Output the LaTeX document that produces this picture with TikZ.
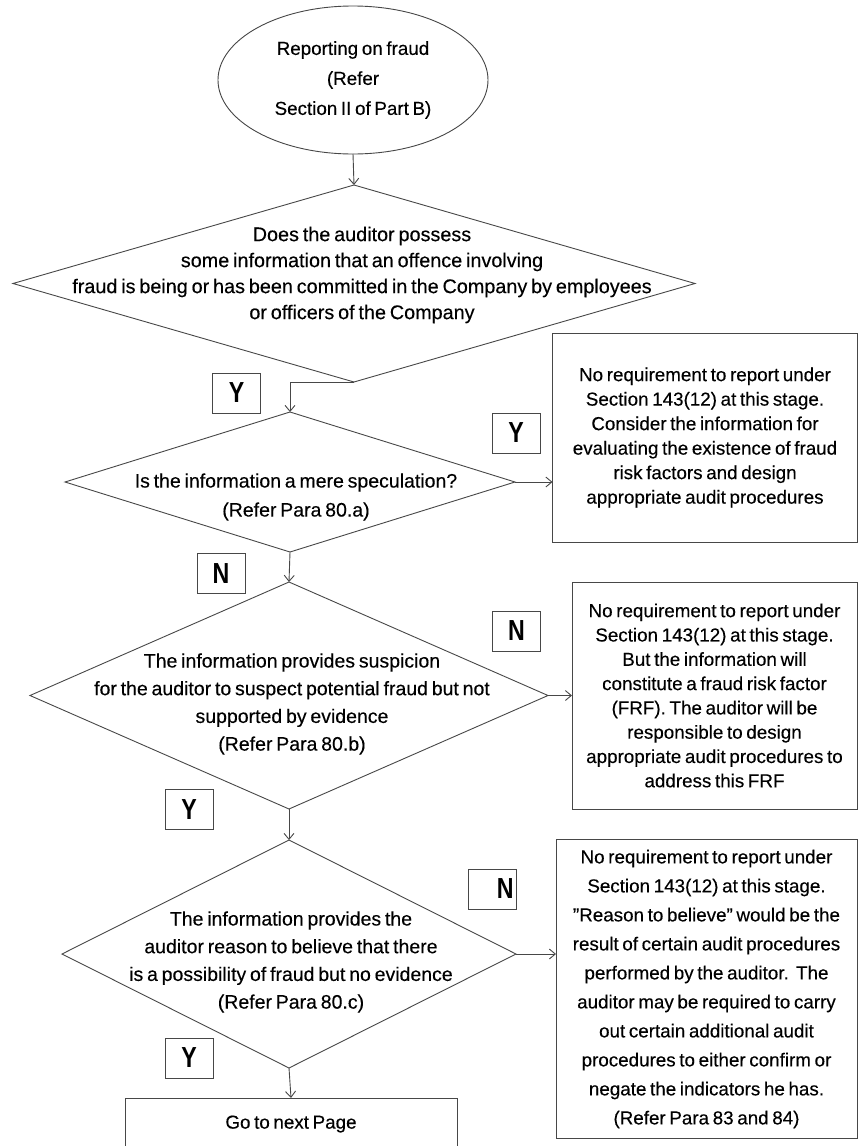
\documentclass[tikz,border=0pt]{standalone}
\usepackage{fontspec}
\setmainfont[WordSpace=0.7,FakeBold=0.25]{Liberation Sans}
\newfontfamily\ynfont[FakeStretch=0.8]{Liberation Sans Bold}
\usetikzlibrary{shapes.geometric,arrows.meta}
\begin{document}
\begin{tikzpicture}[x=1pt,y=-1pt,
  line/.style={draw=black!72, line width=0.9pt},
  arr/.style={line, -{Straight Barb[length=6pt,width=10pt]}},
  ell/.style={ellipse, line, inner sep=0pt, outer sep=0pt, align=center},
  dia/.style={diamond, line, inner sep=0pt, outer sep=0pt},
  dtext/.style={align=center, inner sep=0pt},
  boxn/.style={rectangle, line, inner sep=0pt, outer sep=0pt, align=center},
  yn/.style={rectangle, line, inner sep=0pt, outer sep=0pt, minimum width=48pt, minimum height=40pt, font=\ynfont\fontsize{29}{29}\selectfont}
]
\useasboundingbox (0,0) rectangle (859,1146);
\clip (0,0) rectangle (859,1146);
\fill[white] (0,0) rectangle (859,1146);

% start
\node[ell, minimum width=270pt, minimum height=148pt, font=\fontsize{18.8}{30}\selectfont] (start) at (353,80)
  {Reporting on fraud\\(Refer\\Section II of Part B)};

% diamond 1
\node[dia, minimum width=682pt, minimum height=197pt] (d1) at (354,283.5) {};
\node[dtext, font=\fontsize{19.8}{26}\selectfont] (t1) at (362,275)
  {Does the auditor possess\\some information that an offence involving\\fraud is being or has been committed in the Company by employees\\or officers of the Company};

% diamond 2
\node[dia, minimum width=450pt, minimum height=140pt] (d2) at (290,482) {};
\node[dtext, font=\fontsize{19.5}{29}\selectfont] (t2) at (296,497)
  {Is the information a mere speculation?\\(Refer Para 80.a)};

% diamond 3
\node[dia, minimum width=518pt, minimum height=227pt] (d3) at (289,695.5) {};
\node[dtext, font=\fontsize{19.5}{27.7}\selectfont] (t3) at (292,704)
  {The information provides suspicion\\for the auditor to suspect potential fraud but not\\supported by evidence\\(Refer Para 80.b)};

% diamond 4
\node[dia, minimum width=454pt, minimum height=228pt] (d4) at (289,954) {};
\node[dtext, font=\fontsize{19.5}{27.7}\selectfont] (t4) at (291,962)
  {The information provides the\\auditor reason to believe that there\\is a possibility of fraud but no evidence\\(Refer Para 80.c)};

% boxes
\node[boxn, minimum width=305pt, minimum height=209pt, font=\fontsize{18.8}{24.5}\selectfont] (b1) at (705,437.5)
  {No requirement to report under\\Section 143(12) at this stage.\\Consider the information for\\evaluating the existence of fraud\\risk factors and design\\appropriate audit procedures};

\node[boxn, minimum width=285pt, minimum height=227pt, font=\fontsize{18.8}{24.3}\selectfont] (b2) at (714.5,695.5)
  {No requirement to report under\\Section 143(12) at this stage.\\But the information will\\constitute a fraud risk factor\\(FRF). The auditor will be\\responsible to design\\appropriate audit procedures to\\address this FRF};

\node[boxn, minimum width=301pt, minimum height=299pt, font=\fontsize{18.8}{29}\selectfont] (b3) at (706.5,989)
  {No requirement to report under\\Section 143(12) at this stage.\\”Reason to believe” would be the\\result of certain audit procedures\\performed by the auditor.\ \ The\\auditor may be required to carry\\out certain additional audit\\procedures to either confirm or\\negate the indicators he has.\\(Refer Para 83 and 84)};

\node[boxn, minimum width=332pt, minimum height=52pt, font=\fontsize{18.8}{24}\selectfont] (go) at (291,1124)
  {Go to next Page};

% Y/N labels
\node[yn] (y1) at (236.5,393) {Y};
\node[yn] (y2) at (516,433) {Y};
\node[yn] (n1) at (221,573.5) {N};
\node[yn] (n2) at (516.5,631) {N};
\node[yn] (y3) at (189,809.5) {Y};
\node[yn, align=right, text width=42pt] (n3) at (492.5,889) {N};
\node[yn] (y4) at (189,1058) {Y};

% connectors
\draw[arr] (start.south) -- (d1.north);
\draw[arr] (d1.south) -| (d2.north);
\draw[arr] (d2.east) -- (d2.east -| b1.west);
\draw[arr] (d2.south) -- (d3.north);
\draw[arr] (d3.east) -- (d3.east -| b2.west);
\draw[arr] (d3.south) -- (d4.north);
\draw[arr] (d4.east) -- (d4.east -| b3.west);
\draw[arr] (d4.south) -- (go.north);
\end{tikzpicture}
\end{document}
